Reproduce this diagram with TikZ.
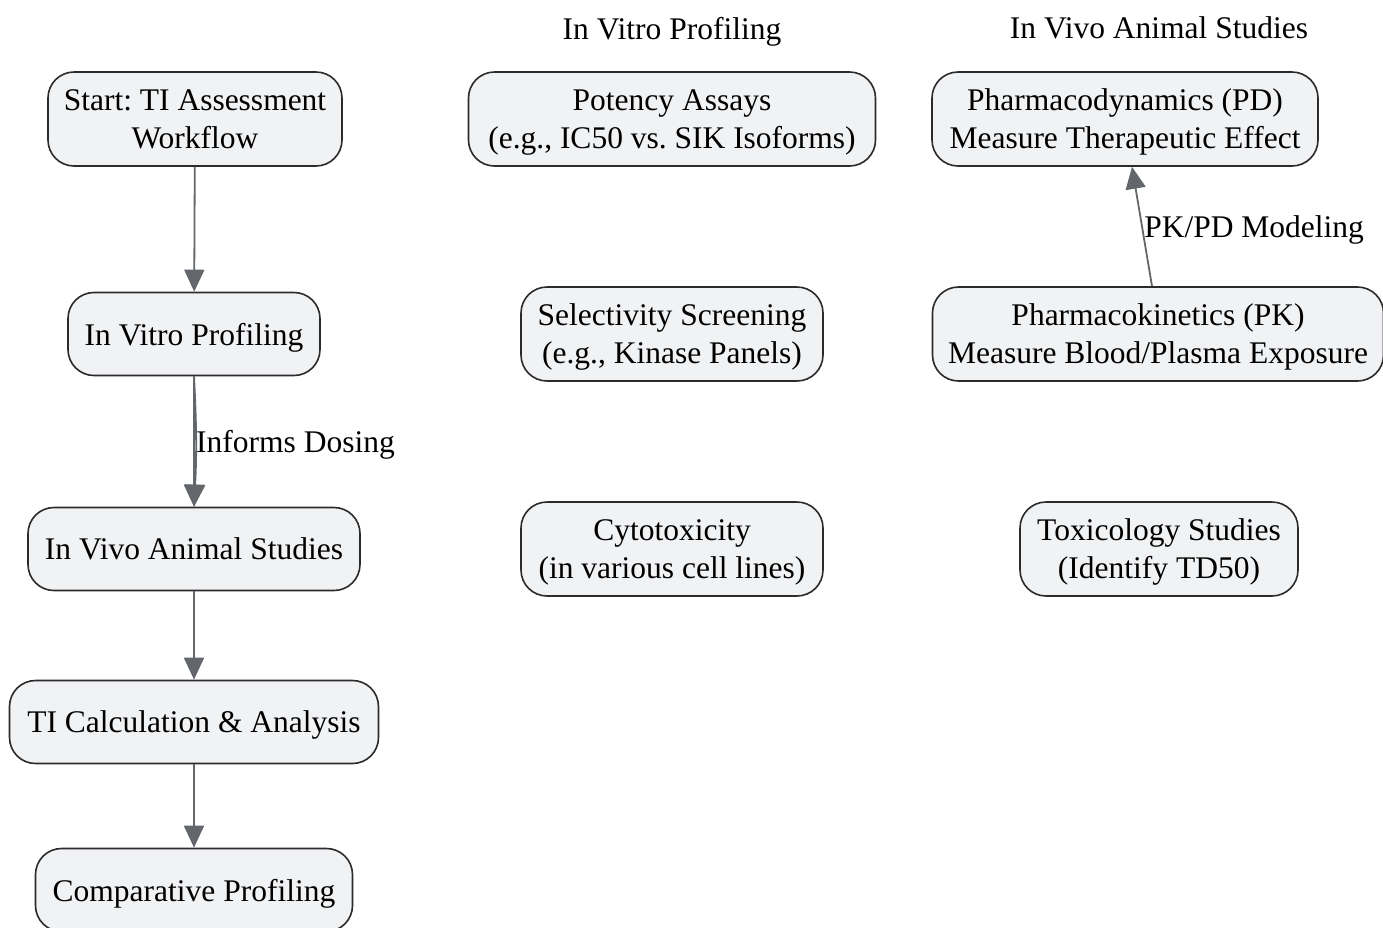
\documentclass[tikz,border=0pt]{standalone}
\usepackage{fontspec}
\setmainfont{Liberation Serif}
\usetikzlibrary{arrows.meta}

\definecolor{boxfill}{HTML}{F1F2F4}
\definecolor{boxline}{HTML}{2B2B2B}
\definecolor{arrowgray}{HTML}{63666A}

\begin{document}
\frenchspacing
\begin{tikzpicture}[
        x=1pt, y=-1pt,
        font=\fontsize{31.5}{38}\selectfont,
        every node/.append style={text depth=0pt},
        step box/.style={draw=boxline, fill=boxfill, line width=1.6pt, rounded corners=26pt,
            align=center, inner sep=0pt, minimum height=83pt},
        two line/.style={minimum height=94pt},
        flow/.style={draw=arrowgray, line width=1.8pt, -{Triangle[length=22pt,width=20pt]}},
    ]
    \useasboundingbox (0,0) rectangle (1383,927);

    % main column
    \node[step box, two line, minimum width=294pt] (start) at (195,119) {Start: TI Assessment\\Workflow};
    \node[step box, minimum width=252pt] (vitro) at (194,334) {In Vitro Profiling};
    \node[step box, minimum width=332pt] (vivo) at (194,549) {In Vivo Animal Studies};
    \node[step box, minimum width=369pt] (calc) at (194,722) {TI Calculation \& Analysis};
    \node[step box, minimum width=317pt] (comp) at (194,890) {Comparative Profiling};

    % in vitro group
    \node (vitrotitle) at (672,28) {In Vitro Profiling};
    \node[step box, two line, minimum width=407pt] (potency) at (672,119) {Potency Assays\\(e.g., IC50 vs. SIK Isoforms)};
    \node[step box, two line, minimum width=302pt] (select) at (672,334) {Selectivity Screening\\(e.g., Kinase Panels)};
    \node[step box, two line, minimum width=302pt] (cyto) at (672,549) {Cytotoxicity\\(in various cell lines)};

    % in vivo group
    \node (vivotitle) at (1159,28) {In Vivo Animal Studies};
    \node[step box, two line, minimum width=386pt] (pd) at (1125,119) {Pharmacodynamics (PD)\\Measure Therapeutic Effect};
    \node[step box, two line, minimum width=451pt] (pk) at (1158,334) {Pharmacokinetics (PK)\\Measure Blood/Plasma Exposure};
    \node[step box, two line, minimum width=278pt] (tox) at (1159,549) {Toxicology Studies\\(Identify TD50)};

    \draw[flow] (start) -- (vitro);
    \draw[flow] (vitro.south) to[bend left=3] (vivo.north);
    \draw[flow] (vitro.south) -- node[right=-2pt] {Informs Dosing} (vivo.north);
    \draw[flow] (vivo) -- (calc);
    \draw[flow] (calc) -- (comp);
    \draw[flow] (pk.north -| 1152,0) -- node[right=-2pt] {PK/PD Modeling} (pd.south -| 1132,0);
\end{tikzpicture}
\end{document}
